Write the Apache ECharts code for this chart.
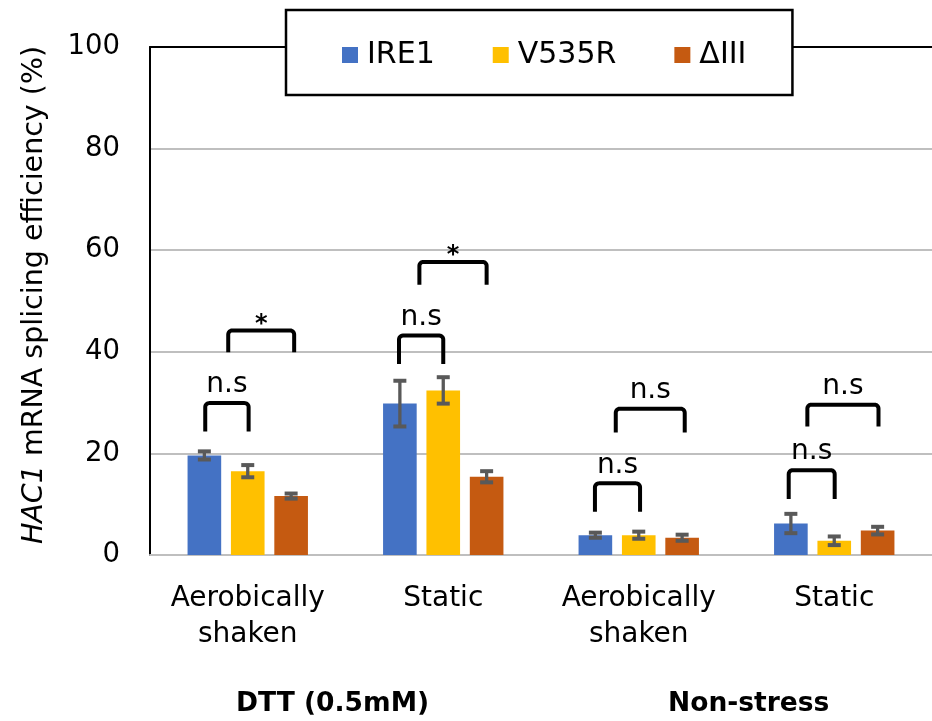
<!DOCTYPE html>
<html>
<head>
<meta charset="utf-8">
<script src="https://cdn.jsdelivr.net/npm/echarts@6/dist/echarts.min.js"></script>
<style>html,body{margin:0;padding:0;background:#fff}#c{width:932px;height:721px}</style>
</head>
<body>
<div id="c"></div>
<script>
const categories = ['Aerobically\nshaken', 'Static', 'Aerobically\nshaken', 'Static'];
const groupLabels = ['DTT (0.5mM)', 'Non-stress'];
const seriesNames = ['IRE1', 'V535R', 'ΔIII'];
const ire1 = [19.6, 29.8, 3.9, 6.2];
const ire1Err = [0.8, 4.5, 0.5, 1.9];
const v535r = [16.5, 32.4, 3.9, 2.8];
const v535rErr = [1.2, 2.6, 0.7, 0.85];
const delta3 = [11.6, 15.4, 3.4, 4.8];
const delta3Err = [0.5, 1.1, 0.6, 0.75];
const yTicks = [0, 20, 40, 60, 80, 100];

// significance brackets: category, left/right anchor (in bar-slot units, 0 = middle bar), top and leg-end values, label
const bracketCat = [0, 0, 1, 1, 2, 2, 3, 3];
const bracketFrom = [-0.98, -0.45, -1.02, -0.55, -1.01, -0.53, -1.05, -0.62];
const bracketTo = [0.02, 1.07, 0, 1.0, 0.03, 1.06, 0.01, 1.02];
const bracketTop = [29.9, 44.2, 43.2, 57.7, 14.1, 28.8, 16.7, 29.6];
const bracketLeg = [24.3, 39.9, 37.6, 53.2, 8.5, 24.1, 11.0, 25.3];
const bracketText = ['n.s', '*', 'n.s', '*', 'n.s', 'n.s', 'n.s', 'n.s'];

const colors = ['#4472c4', '#ffc000', '#c55a11'];
const FONT = 'DejaVu Sans';
const BAR_W = 0.172;   // fraction of category band
const BAR_GAP = 0.29;  // fraction of bar width
const slotSpacing = BAR_W * (1 + BAR_GAP);

const values = [ire1, v535r, delta3];
const errs = [ire1Err, v535rErr, delta3Err];
const errData = [];
for (let s = 0; s < 3; s++) {
  for (let c = 0; c < categories.length; c++) {
    errData.push([c, s - 1, values[s][c] - errs[s][c], values[s][c] + errs[s][c]]);
  }
}
const bracketData = bracketCat.map((c, i) => [c, bracketFrom[i], bracketTo[i], bracketTop[i], bracketLeg[i]]);

const chart = echarts.init(document.getElementById('c'), null, {renderer: 'canvas'});

function arcPts(cx, cy, r, a0, a1) {
  const pts = [];
  for (let k = 0; k <= 6; k++) {
    const a = a0 + (a1 - a0) * k / 6;
    pts.push([cx + r * Math.cos(a), cy + r * Math.sin(a)]);
  }
  return pts;
}

const option = {
  backgroundColor: '#fff',
  animation: false,
  color: colors,
  textStyle: {fontFamily: FONT},
  legend: {
    data: seriesNames,
    left: 286, top: 10,
    padding: [30, 46, 25, 56],
    itemGap: 58,
    itemWidth: 16, itemHeight: 16,
    icon: 'rect',
    borderColor: '#000', borderWidth: 2.5,
    backgroundColor: '#fff',
    textStyle: {fontSize: 30, color: '#000', fontFamily: FONT, padding: [0, 0, 0, 4]}
  },
  grid: {left: 150, right: -9, top: 47, bottom: 166, containLabel: false},
  xAxis: [{
    type: 'category', data: categories,
    axisLine: {show: true, lineStyle: {color: '#bfbfbf', width: 2}},
    axisTick: {show: false},
    axisLabel: {interval: 0, fontSize: 28, color: '#000', fontFamily: FONT, lineHeight: 36, margin: 26}
  }, {
    type: 'category', data: categories, position: 'top',
    axisLine: {show: true, lineStyle: {color: '#000', width: 2}},
    axisTick: {show: false}, axisLabel: {show: false}
  }],
  yAxis: {
    type: 'value', min: yTicks[0], max: yTicks[yTicks.length - 1], interval: yTicks[1] - yTicks[0],
    axisLine: {show: true, lineStyle: {color: '#000', width: 2}},
    axisTick: {show: false},
    splitLine: {lineStyle: {color: '#bfbfbf', width: 2}},
    axisLabel: {fontSize: 27.5, color: '#000', fontFamily: FONT, margin: 30},
    name: '{i|HAC1} mRNA splicing efficiency (%)',
    nameLocation: 'middle', nameRotate: 90, nameGap: 101,
    nameTextStyle: {fontSize: 28.5, color: '#000', fontFamily: FONT, padding: [0, 0, 0, 12],
      rich: {i: {fontSize: 28.5, fontStyle: 'italic', color: '#000', fontFamily: FONT}}}
  },
  graphic: [
    {type: 'text', left: 332 - 96, top: 691, style: {text: groupLabels[0], font: 'bold 26.5px "DejaVu Sans"', fill: '#000'}},
    {type: 'text', left: 749 - 81, top: 691, style: {text: groupLabels[1], font: 'bold 26.5px "DejaVu Sans"', fill: '#000'}}
  ],
  series: [
    ...seriesNames.map((n, i) => ({
      name: n, type: 'bar', data: values[i],
      barWidth: (BAR_W * 100) + '%', barGap: (BAR_GAP * 100) + '%',
      itemStyle: {color: colors[i]}
    })),
    {
      type: 'custom', name: 'err', data: errData, z: 5,
      encode: {x: 0, y: [2, 3]},
      renderItem: function (params, api) {
        const c = api.value(0), slot = api.value(1);
        const band = api.size([1, 0])[0];
        const p0 = api.coord([c, api.value(2)]);
        const p1 = api.coord([c, api.value(3)]);
        const x = p0[0] + slot * slotSpacing * band;
        const hw = 6.5;
        const st = {stroke: '#595959', lineWidth: 3.3};
        const cap = {stroke: '#595959', lineWidth: 4};
        return {type: 'group', children: [
          {type: 'line', shape: {x1: x, y1: p0[1], x2: x, y2: p1[1]}, style: st},
          {type: 'line', shape: {x1: x - hw, y1: p0[1], x2: x + hw, y2: p0[1]}, style: cap},
          {type: 'line', shape: {x1: x - hw, y1: p1[1], x2: x + hw, y2: p1[1]}, style: cap}
        ]};
      }
    },
    {
      type: 'custom', name: 'brackets', data: bracketData, z: 6,
      encode: {x: 0, y: [3, 4]},
      renderItem: function (params, api) {
        const c = api.value(0);
        const band = api.size([1, 0])[0];
        const top = api.coord([c, api.value(3)]);
        const leg = api.coord([c, api.value(4)]);
        const xl = top[0] + api.value(1) * slotSpacing * band;
        const xr = top[0] + api.value(2) * slotSpacing * band;
        const yt = top[1], yb = leg[1];
        const r = 4;
        let pts = [[xl, yb]];
        pts = pts.concat(arcPts(xl + r, yt + r, r, Math.PI, 1.5 * Math.PI));
        pts = pts.concat(arcPts(xr - r, yt + r, r, 1.5 * Math.PI, 2 * Math.PI));
        pts.push([xr, yb]);
        const txt = bracketText[params.dataIndex];
        const isStar = txt === '*';
        return {type: 'group', children: [
          {type: 'polyline', shape: {points: pts}, style: {stroke: '#000', lineWidth: 4, fill: null, lineJoin: 'round'}},
          {type: 'text', x: (xl + xr) / 2, y: isStar ? yt - 6 : yt - 4,
            style: {text: txt, fill: '#000', font: isStar ? 'bold 24px "DejaVu Sans"' : '28px "DejaVu Sans"',
              textAlign: 'center', textVerticalAlign: isStar ? 'middle' : 'bottom'}}
        ]};
      }
    }
  ]
};
chart.setOption(option);
</script>
</body>
</html>
